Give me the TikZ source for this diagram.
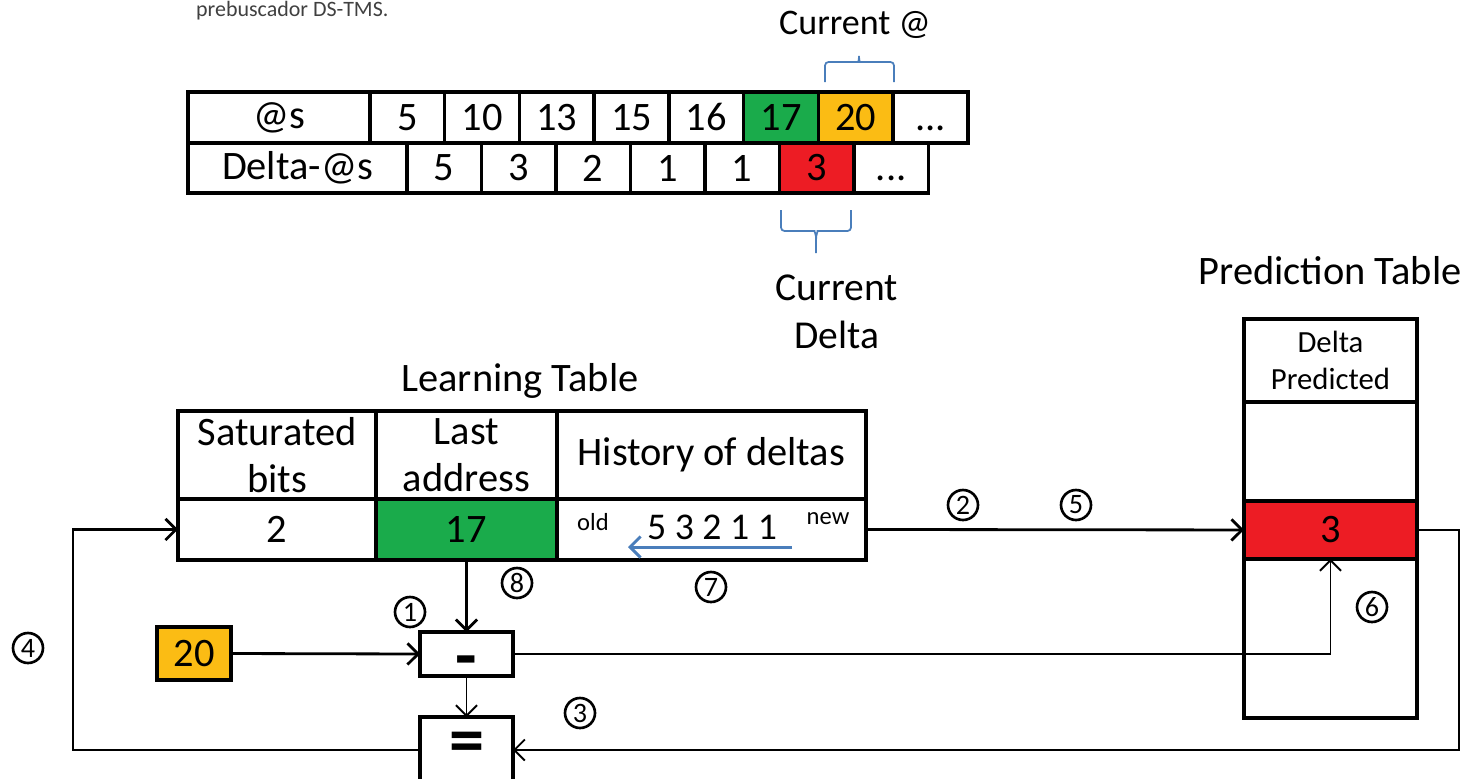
\documentclass[tikz,border=0pt]{standalone}
\usepackage{fontspec}
\setmainfont{Carlito}
\usetikzlibrary{positioning,arrows.meta}
\definecolor{cellgreen}{HTML}{1AAB4B}
\definecolor{cellorange}{HTML}{FBBC14}
\definecolor{cellred}{HTML}{ED1C24}
\definecolor{braceblue}{HTML}{4A7EBB}

\begin{document}
\begin{tikzpicture}[
		x=0.02cm, y=-0.02cm,
		cell/.style={draw, line width=2pt, outer sep=0pt, inner sep=0pt, align=center, font=\fontsize{23}{27}\selectfont},
		acell/.style={cell, minimum width=1.495cm, minimum height=1.02cm},
		dcell/.style={cell, minimum width=1.49cm, minimum height=1.0cm},
		arr/.style={line width=1.6pt, -{Straight Barb[length=6pt,width=12pt]}},
		thinarr/.style={line width=1.1pt, -{Straight Barb[length=6pt,width=12pt]}},
		stepnum/.style={circle, draw, line width=1.5pt, minimum size=0.6cm, inner sep=0pt, font=\fontsize{16}{16}\selectfont},
		title/.style={font=\fontsize{23}{27}\selectfont, align=center},
		opsign/.style={font=\fontsize{40}{40}\selectfont\bfseries},
		bracestyle/.style={draw=braceblue, line width=1pt}
	]
	\clip (0,0) rectangle (1480,778);

	% caption fragment
	\node[anchor=base west, font=\fontsize{12.5}{15}\selectfont, text=black!75] (caption) at (190,16) {prebuscador DS-TMS.};

	% addresses
	\node[cell, minimum width=3.64cm, minimum height=1.02cm, anchor=north west] (rowA) at (188,92) {@s};
	\node[acell, right=0pt of rowA] (a1) {5};
	\node[acell, right=0pt of a1] (a2) {10};
	\node[acell, right=0pt of a2] (a3) {13};
	\node[acell, right=0pt of a3] (a4) {15};
	\node[acell, right=0pt of a4] (a5) {16};
	\node[acell, right=0pt of a5, fill=cellgreen] (a6) {17};
	\node[acell, right=0pt of a6, fill=cellorange] (a7) {20};
	\node[acell, right=0pt of a7] (a8) {\vphantom{0}...};

	% deltas
	\node[cell, minimum width=4.38cm, minimum height=1.0cm, anchor=north west] (rowD) at (188,143) {Delta-@s};
	\node[dcell, right=0pt of rowD] (dd1) {5};
	\node[dcell, right=0pt of dd1] (dd2) {3};
	\node[dcell, right=0pt of dd2] (dd3) {2};
	\node[dcell, right=0pt of dd3] (dd4) {1};
	\node[dcell, right=0pt of dd4] (dd5) {1};
	\node[dcell, right=0pt of dd5, fill=cellred] (dd6) {3};
	\node[dcell, right=0pt of dd6] (dd7) {\vphantom{0}...};

	% braces
	\draw[bracestyle, rounded corners=2pt] (825,82) -- (825,62) -- (855,62) .. controls (858,62) and (859,60) .. (859,56);
	\draw[bracestyle, rounded corners=2pt] (894,82) -- (894,62) -- (863,62) .. controls (860,62) and (859,60) .. (859,56);
	\node[font=\fontsize{20.5}{24}\selectfont] (curaddr) at (855,25) {Current @};

	\draw[bracestyle, rounded corners=2pt] (781,210) -- (781,231) -- (811,231) .. controls (814,231) and (816,234) .. (816,240) -- (816,253);
	\draw[bracestyle, rounded corners=2pt] (851,210) -- (851,231) -- (821,231) .. controls (818,231) and (816,234) .. (816,240);
	\node[title, font=\fontsize{22.5}{27}\selectfont] (curdelta) at (837,312) {Current\\Delta};

	% learning table
	\node[title] (ltitle) at (520,381) {Learning Table};
	\node[cell, minimum width=3.96cm, minimum height=1.76cm, anchor=north west] (lsat) at (178,411) {Saturated\\bits};
	\node[cell, minimum width=3.62cm, minimum height=1.76cm, right=0pt of lsat] (llast) {Last\\address};
	\node[cell, minimum width=6.18cm, minimum height=1.76cm, right=0pt of llast] (lhist) {History of deltas};
	\node[cell, minimum width=3.96cm, minimum height=1.22cm, below=0pt of lsat] (vsat) {2};
	\node[cell, minimum width=3.62cm, minimum height=1.22cm, below=0pt of llast, fill=cellgreen] (vlast) {17};
	\node[cell, minimum width=6.18cm, minimum height=1.22cm, below=0pt of lhist] (vhist) {};
	\node[font=\fontsize{14}{14}\selectfont] (hold) at (593,522) {old};
	\node[font=\fontsize{21.5}{21.5}\selectfont] (hseq) at (712,527) {5 3 2 1 1};
	\node[font=\fontsize{14}{14}\selectfont] (hnew) at (828,519) {new};
	\coordinate (hfrom) at (792,547);
	\coordinate (hto) at (628,547);
	\draw[line width=1.7pt, draw=braceblue, -{Straight Barb[length=6pt,width=12pt]}] (hfrom) -- (hto);

	% prediction table
	\node[title] (ptitle) at (1330,271) {Prediction Table};
	\node[cell, minimum width=3.46cm, minimum height=1.66cm, anchor=north west, font=\fontsize{17.5}{21}\selectfont] (phead) at (1244,319) {Delta\\Predicted};
	\node[cell, minimum width=3.46cm, minimum height=1.98cm, below=0pt of phead] (pempty) {};
	\node[cell, minimum width=3.46cm, minimum height=1.16cm, below=0pt of pempty, fill=cellred] (pcur) {3};
	\node[cell, minimum width=3.46cm, minimum height=3.18cm, below=0pt of pcur] (prest) {};

	% operators
	\node[cell, minimum width=1.48cm, minimum height=1.06cm, fill=cellorange] (newaddr) at (194,653.5) {20};
	\node[cell, minimum width=1.86cm, minimum height=0.88cm] (sub) at (466.5,654) {};
	\node[opsign, anchor=base] (minussign) at (466.5,679) {-};
	\node[cell, minimum width=1.86cm, minimum height=1.32cm, anchor=north] (cmp) at (466.5,717) {};
	\node[opsign] (eqsign) at (466.5,748) {=};

	% connectors
	\draw[arr] (vhist.east) -- (pcur.west);
	\draw[arr] (vlast.south) -- (sub.north);
	\draw[arr] (newaddr.east) -- (sub.west);
	\draw[thinarr] (sub.south) -- (cmp.north);
	\draw[thinarr] (sub.east) -| (pcur.south);
	\draw[thinarr] (pcur.east) -- ++(42,0) |- (cmp.east);
	\draw[arr] (cmp.west) -- ++(-347,0) |- (vsat.west);

	% steps
	\node[stepnum] (s1) at (410,612) {1};
	\node[stepnum] (s2) at (963,505) {2};
	\node[stepnum] (s3) at (580,713) {3};
	\node[stepnum] (s4) at (28,648) {4};
	\node[stepnum] (s5) at (1076,505) {5};
	\node[stepnum] (s6) at (1372,607) {6};
	\node[stepnum] (s7) at (711,587) {7};
	\node[stepnum] (s8) at (517,583) {8};
\end{tikzpicture}
\end{document}
